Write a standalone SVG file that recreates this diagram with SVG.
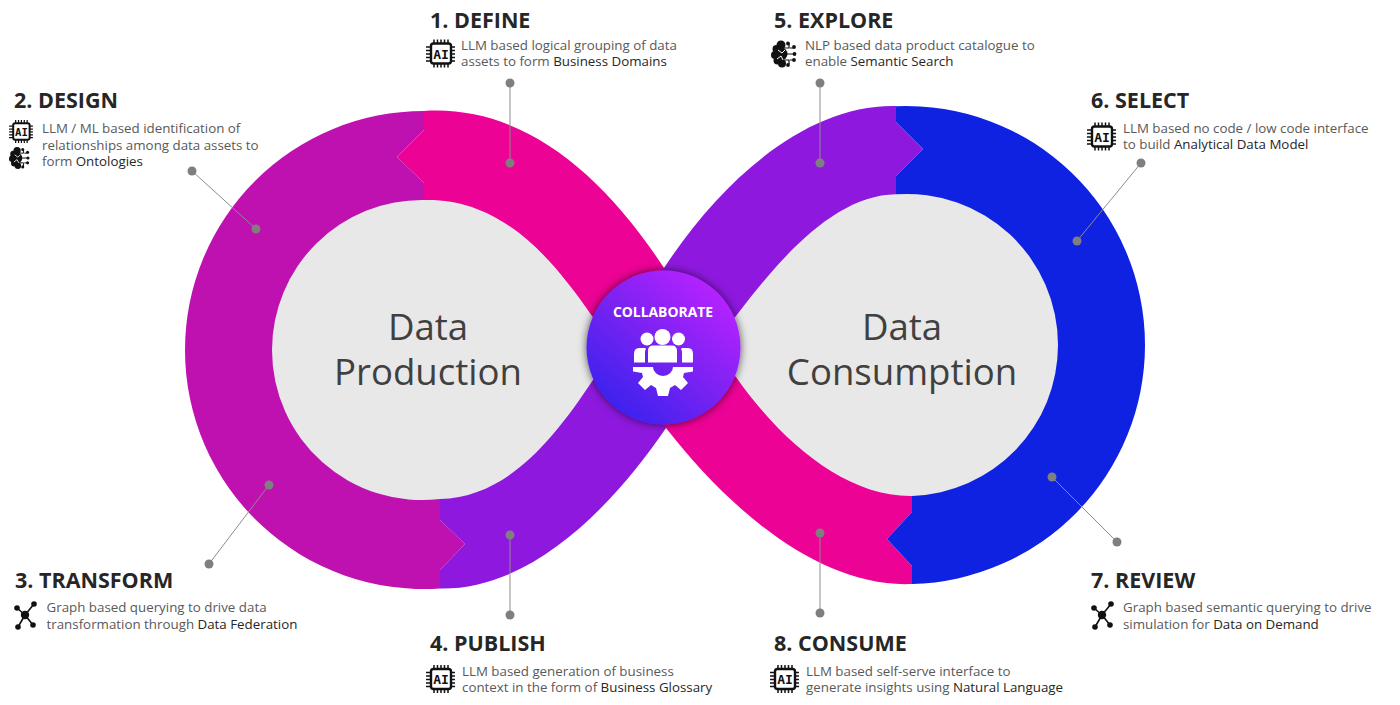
<svg xmlns="http://www.w3.org/2000/svg" width="1400" height="705" viewBox="0 0 1400 705">
<style>
text{font-family:"Open Sans","Noto Sans","Liberation Sans",sans-serif}
.h{font-size:21.5px;font-weight:700;fill:#262626}
.b{font-size:13.33px;fill:#595959}
.d{fill:#262626}
.c{font-size:36.6px;fill:#404040;text-anchor:middle}
.l{stroke:#8c8c8c;stroke-width:1;fill:none}
.p{fill:#7f7f7f}
</style>
<defs>
<linearGradient id="g" x1="0.15" y1="0.9" x2="0.85" y2="0.1"><stop offset="0" stop-color="#3a22ee"/><stop offset="0.5" stop-color="#7a22f2"/><stop offset="1" stop-color="#b822ff"/></linearGradient>
<filter id="s" x="-20%" y="-20%" width="140%" height="140%"><feDropShadow dx="0" dy="0" stdDeviation="4" flood-color="#000" flood-opacity="0.65"/></filter>
<symbol id="chip" viewBox="0 0 29 28" overflow="visible">
<g stroke="#111" stroke-width="1.5" fill="none"><path d="M8 0v4M11.500 0v4M15 0v4M18.500 0v4M22 0v4M8 24v4M11.500 24v4M15 24v4M18.500 24v4M22 24v4M0 7.500h5M0 11h5M0 14.500h5M0 18h5M0 21.500h5M25 7.500h4M25 11h4M25 14.500h4M25 18h4M25 21.500h4"/><rect x="5" y="4" width="20" height="20" rx="2.500" stroke-width="2.400"/></g>
<text x="15" y="19" text-anchor="middle" style="font-family:'DejaVu Sans Mono','Liberation Mono',monospace;font-size:13px;font-weight:700" fill="#111">AI</text>
</symbol>
<symbol id="brain" viewBox="0 0 26 28" overflow="visible">
<g fill="#111"><circle cx="10" cy="5" r="4.500"/><circle cx="5.500" cy="9" r="4"/><circle cx="4" cy="15" r="4"/><circle cx="6.500" cy="20.500" r="4"/><circle cx="11" cy="23.500" r="4"/><circle cx="10" cy="14" r="6.500"/>
<circle cx="17" cy="3.500" r="1.900"/><circle cx="23" cy="7" r="1.900"/><circle cx="23.500" cy="14" r="1.900"/><circle cx="23" cy="20" r="1.900"/><circle cx="17" cy="25" r="1.900"/></g>
<g stroke="#111" stroke-width="1.200" fill="none"><path d="M13 8h5V4M13 14h10M13 20h5v4M19 8h3M19 20h3"/></g>
<g stroke="#fff" stroke-width="1" fill="none"><path d="M7 10l4 3 3-3M6 19l4-3 2 4"/></g>
</symbol>
<symbol id="graph" viewBox="0 0 26 28" overflow="visible">
<g stroke="#111" stroke-width="1.600"><path d="M12 14L4 7M12 14L21 3M12 14L20 24M12 14L5 26"/></g>
<g fill="#111"><circle cx="12" cy="14" r="4.200"/><circle cx="4" cy="7" r="2.800"/><circle cx="21" cy="3" r="2.800"/><circle cx="20" cy="24" r="2.800"/><circle cx="5" cy="26" r="2.800"/></g>
</symbol>
</defs>

<g id="loop">
<path id="gray-left" fill="#e8e8e8" d="M424 198A152 152 0 0 0 270 350A152 152 0 0 0 440 501C510 510 560 450 600 395L650 347L600 300C560 240 500 190 424 198Z"/>
<path id="gray-right" fill="#e8e8e8" d="M896 192A153 153 0 0 1 1060 345A153 153 0 0 1 912 498C840 510 770 440 725 390L680 347L725 300C770 250 830 190 896 192Z"/>
<path id="band-design" fill="#be11b0" d="M424 111A239 239 0 0 0 185 350A239 239 0 0 0 440 588.500V570L465 544L440 520V499A150 150 0 0 1 272 350A150 150 0 0 1 424 200V183L397 157L424 130Z"/>
<path id="band-define" fill="#ec0295" d="M424 111C520 105 600 170 664 268L700 320L620 345L592 316C550 255 500 198 424 200V183L397 157L424 130Z"/>
<path id="band-publish" fill="#8e18de" d="M440 588.500C530 590 610 510 666 428L690 400L620 350L593 380C550 445 505 497 440 499V520L465 544L440 570Z"/>
<path id="band-explore" fill="#8e18de" d="M896 106C810 104 725 175 664 268L625 320L700 350L736 316C780 258 835 195 896 194.300V176L923 149L896 122Z"/>
<path id="band-consume" fill="#ec0295" d="M912 584C820 588 730 510 666 428L630 380L700 345L736 377C780 440 845 497 912 496V512L887 539L912 566Z"/>
<path id="band-select" fill="#0f22e2" d="M896 106.200A239 239 0 0 1 1145 345A239 239 0 0 1 912 584V566L887 539L912 512V496A151 151 0 0 0 1058 345A151 151 0 0 0 896 194.300V176L923 149L896 122Z"/>
</g>

<g id="labels-center">
<text class="c" x="428" y="340">Data</text>
<text class="c" x="428" y="385">Production</text>
<text class="c" x="902" y="340">Data</text>
<text class="c" x="902" y="385">Consumption</text>
</g>

<g id="connectors">
<path class="l" d="M510 83V163M192 171L256 229M269 485L209 564M510 535V615M820 83V163M1141 163L1077 241M1052 477L1117 542M820 533V613"/>
<g class="p">
<circle cx="510" cy="83" r="4.500"/><circle cx="510" cy="163" r="4.500"/>
<circle cx="192" cy="171" r="4.500"/><circle cx="256" cy="229" r="4.500"/>
<circle cx="269" cy="485" r="4.500"/><circle cx="209" cy="564" r="4.500"/>
<circle cx="510" cy="535" r="4.500"/><circle cx="510" cy="615" r="4.500"/>
<circle cx="820" cy="83" r="4.500"/><circle cx="820" cy="163" r="4.500"/>
<circle cx="1141" cy="163" r="4.500"/><circle cx="1077" cy="241" r="4.500"/>
<circle cx="1052" cy="477" r="4.500"/><circle cx="1117" cy="542" r="4.500"/>
<circle cx="820" cy="533" r="4.500"/><circle cx="820" cy="613" r="4.500"/>
</g>
</g>

<g id="node-collaborate">
<circle cx="663.500" cy="347.500" r="77" fill="url(#g)" filter="url(#s)"/>
<text x="663" y="317" text-anchor="middle" style="font-size:13.900px;font-weight:700" fill="#fff">COLLABORATE</text>
<g fill="#fff">
<circle cx="662.500" cy="337" r="8"/><circle cx="647" cy="339" r="6.500"/><circle cx="678.500" cy="339" r="6.500"/>
<path d="M648 362.500V351q0-5.500 5-5.500h19q5 0 5 5.500v11.500zM634 362.500V354q0-6 5-6h6l1 1q-1 1-1 3v10.500zM693 362.500V354q0-6-5-6h-6l-1 1q1 1 1 3v10.500z"/>
<path fill-rule="evenodd" d="M633 367H693V371.500L684 373L683 377L688 383L681 390L675 385L670 388L668 396H658L656 388L651 385L645 390L638 383L643 377L642 373L633 371.500ZM653 367A10 9 0 0 0 673 367Z"/>
</g>
</g>

<g id="node-1">
<text class="h" x="430" y="28">1. DEFINE</text>
<use href="#chip" x="426" y="39.500" width="29" height="28"/>
<text class="b" x="461" y="50">LLM based logical grouping of data</text>
<text class="b" x="461" y="66">assets to form <tspan class="d">Business Domains</tspan></text>
</g>
<g id="node-2">
<text class="h" x="14" y="108">2. DESIGN</text>
<use href="#chip" x="9" y="120" width="24" height="23"/>
<use href="#brain" x="9" y="146" width="21" height="24"/>
<text class="b" x="42" y="133">LLM / ML based identification of</text>
<text class="b" x="42" y="150">relationships among data assets to</text>
<text class="b" x="42" y="166">form <tspan class="d">Ontologies</tspan></text>
</g>
<g id="node-3">
<text class="h" x="15" y="588">3. TRANSFORM</text>
<use href="#graph" x="13" y="601" width="26" height="28"/>
<text class="b" x="46.500" y="612">Graph based querying to drive data</text>
<text class="b" x="46.500" y="629">transformation through <tspan class="d">Data Federation</tspan></text>
</g>
<g id="node-4">
<text class="h" x="430" y="651">4. PUBLISH</text>
<use href="#chip" x="426" y="665" width="29" height="28"/>
<text class="b" x="462" y="676">LLM based generation of business</text>
<text class="b" x="462" y="692">context in the form of <tspan class="d">Business Glossary</tspan></text>
</g>
<g id="node-5">
<text class="h" x="774" y="28">5. EXPLORE</text>
<use href="#brain" x="771" y="40" width="26" height="28"/>
<text class="b" x="805" y="50">NLP based data product catalogue to</text>
<text class="b" x="805" y="66">enable <tspan class="d">Semantic Search</tspan></text>
</g>
<g id="node-6">
<text class="h" x="1091" y="108">6. SELECT</text>
<use href="#chip" x="1087" y="122.500" width="29" height="28"/>
<text class="b" x="1123" y="133">LLM based no code / low code interface</text>
<text class="b" x="1123" y="149">to build <tspan class="d">Analytical Data Model</tspan></text>
</g>
<g id="node-7">
<text class="h" x="1091" y="588">7. REVIEW</text>
<use href="#graph" x="1090" y="601" width="26" height="28"/>
<text class="b" x="1123" y="612">Graph based semantic querying to drive</text>
<text class="b" x="1123" y="629">simulation for <tspan class="d">Data on Demand</tspan></text>
</g>
<g id="node-8">
<text class="h" x="774" y="651">8. CONSUME</text>
<use href="#chip" x="770" y="665" width="29" height="28"/>
<text class="b" x="806" y="676">LLM based self-serve interface to</text>
<text class="b" x="806" y="692">generate insights using <tspan class="d">Natural Language</tspan></text>
</g>
</svg>
